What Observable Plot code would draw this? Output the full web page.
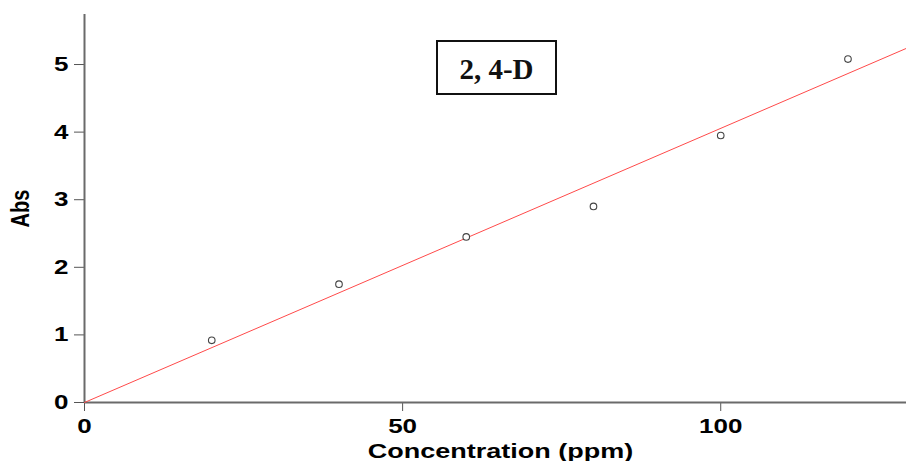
<!DOCTYPE html>
<html>
<head>
<meta charset="utf-8">
<script src="https://cdn.jsdelivr.net/npm/d3@7"></script>
<script src="https://cdn.jsdelivr.net/npm/@observablehq/plot@0.6"></script>
<style>
  html, body { margin: 0; padding: 0; background: white; }
  #wrap { position: relative; width: 906px; height: 461px; overflow: hidden; }
  #title {
    position: absolute; left: 436px; top: 40px; width: 117px; height: 48px;
    border: 2px solid #111; background: white;
    display: flex; align-items: center; justify-content: center;
    font-family: "Liberation Serif", "DejaVu Serif", serif; font-weight: bold; font-size: 29px; color: #111;
    padding-top: 3px; box-sizing: content-box;
  }
</style>
</head>
<body>
<div id="wrap"><div id="title">2, 4-D</div></div>
<script>
// Measured points
const concentration = [20, 40, 60, 80, 100, 120];
const absorbance = [0.92, 1.75, 2.45, 2.9, 3.95, 5.08];
// Calibration (fit) line endpoints
const fitConcentration = [0, 129.2];
const fitAbsorbance = [0, 5.24];
// Tick labels
const xTicks = [0, 50, 100];
const yTicks = [0, 1, 2, 3, 4, 5];
const xLabel = "Concentration (ppm)";
const yLabel = "Abs";

const points = concentration.map((c, i) => ({c, a: absorbance[i]}));
const fit = fitConcentration.map((c, i) => ({c, a: fitAbsorbance[i]}));

const chart = Plot.plot({
  width: 906,
  height: 461,
  marginLeft: 84,
  marginRight: 0,
  marginTop: 14,
  marginBottom: 59,
  style: {fontFamily: "'Liberation Sans', Arial, sans-serif", fontSize: "20px", fontWeight: "bold", background: "white", color: "black"},
  x: {domain: [0, 129.2]},
  y: {domain: [0, 5.74]},
  marks: [
    Plot.axisX({ticks: xTicks, tickSize: 9, tickPadding: 7, stroke: "#555", fill: "black", label: null, tickFormat: d => d}),
    Plot.axisY({ticks: yTicks, tickSize: 10, tickPadding: 6, stroke: "#555", fill: "black", label: null, tickFormat: d => d}),
    Plot.ruleY([0], {stroke: "#6a6a6a", strokeWidth: 2}),
    Plot.ruleX([0], {stroke: "#6a6a6a", strokeWidth: 2}),
    Plot.line(fit, {x: "c", y: "a", stroke: "#ff4a4a", strokeWidth: 1}),
    Plot.dot(points, {x: "c", y: "a", r: 3.3, stroke: "#444", strokeWidth: 1.1, fill: "white"}),
    Plot.text([xLabel], {frameAnchor: "bottom", textAnchor: "middle", lineAnchor: "top", dx: 5, dy: 41, fill: "black", className: "xlabel"}),
    Plot.text([yLabel], {frameAnchor: "left", textAnchor: "middle", lineAnchor: "middle", rotate: -90, dx: -64, dy: 0, fill: "black"})
  ]
});

// The original figure's text is horizontally stretched; reproduce that.
d3.select(chart).selectAll("text").each(function() {
  const SX = this.closest(".xlabel") ? 1.35 : 1.3;
  const t = this.getAttribute("transform");
  if (t && /^translate\([^)]*\)/.test(t)) {
    this.setAttribute("transform", t.replace(/^(translate\([^)]*\))/, `$1 scale(${SX},1)`));
  } else {
    const x = +(this.getAttribute("x") || 0), y = +(this.getAttribute("y") || 0);
    this.setAttribute("transform", `translate(${x},${y}) scale(${SX},1) translate(${-x},${-y})` + (t ? " " + t : ""));
  }
});

document.getElementById("wrap").prepend(chart);
</script>
</body>
</html>
